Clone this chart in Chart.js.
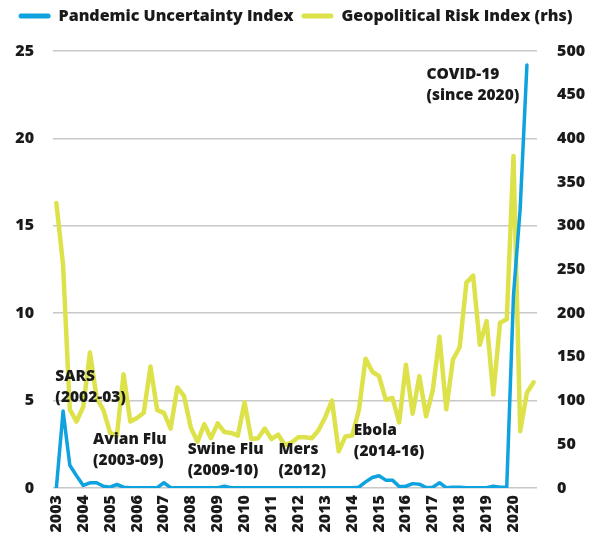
<!DOCTYPE html>
<html>
<head>
<meta charset="utf-8">
<script src="https://cdn.jsdelivr.net/npm/chart.js@4.4.1/dist/chart.umd.min.js"></script>
<style>
  html, body { margin: 0; padding: 0; background: #fff; }
  #wrap { width: 591px; height: 542px; }
</style>
</head>
<body>
<div id="wrap"><canvas id="chart" width="591" height="542"></canvas></div>
<script>
// Quarters 2003 Q1 .. 2020 Q4
const years = [];
for (let y = 2003; y <= 2020; y++) years.push(y);
const quarters = [];
years.forEach(y => { ['Q1', 'Q2', 'Q3', 'Q4'].forEach(q => quarters.push(y + ' ' + q)); });

// Pandemic Uncertainty Index (left axis), ends 2020 Q3
const pandemic = [
  0, 4.4, 1.3, 0.7, 0.15, 0.3, 0.3, 0.1,
  0.05, 0.2, 0.05, 0.02, 0.02, 0.02, 0.02, 0.02,
  0.3, 0.02, 0.02, 0.02, 0.02, 0.02, 0.02, 0.02,
  0.02, 0.1, 0.02, 0.02, 0.02, 0.02, 0.02, 0.02,
  0.02, 0.02, 0.02, 0.02, 0.02, 0.02, 0.02, 0.02,
  0.02, 0.02, 0.02, 0.02, 0.02, 0.05, 0.35, 0.6,
  0.7, 0.45, 0.45, 0.08, 0.1, 0.25, 0.22, 0.02,
  0.05, 0.3, 0.02, 0.05, 0.05, 0.02, 0.02, 0.02,
  0.02, 0.1, 0.05, 0.05, 11, 16, 24.2, null
];

// Geopolitical Risk Index (right axis)
const geopolitical = [
  326, 255, 90, 76, 93, 155, 103, 89,
  63, 60, 130, 76, 80, 86, 139, 89,
  86, 68, 115, 105, 69, 53, 73, 57,
  74, 64, 63, 60, 98, 56, 57, 68,
  56, 61, 49, 52, 58, 58, 57, 66,
  81, 100, 42, 59, 60, 89, 148, 133,
  128, 101, 103, 75, 141, 85, 128, 82,
  112, 173, 90, 147, 161, 235, 243, 164,
  191, 107, 189, 193, 380, 65, 109, 121
];

const leftTicks = [0, 5, 10, 15, 20, 25];
const rightTicks = [0, 50, 100, 150, 200, 250, 300, 350, 400, 450, 500];

// Event labels: quarter index and left-axis value of the first line
const notes = [
  { q: 0.0, v: 6.4, lines: ['SARS', '(2002-03)'] },
  { q: 5.6, v: 2.75, lines: ['Avian Flu', '(2003-09)'] },
  { q: 19.7, v: 2.2, lines: ['Swine Flu', '(2009-10)'] },
  { q: 33.2, v: 2.2, lines: ['Mers', '(2012)'] },
  { q: 44.4, v: 3.3, lines: ['Ebola', '(2014-16)'] },
  { q: 55.2, v: 23.65, lines: ['COVID-19', '(since 2020)'] }
];

const BLUE = '#0ea2de';
const YELLOW = '#dde24b';
const TEXT = '#1a1a1a';
const FONT = "'Open Sans', 'Noto Sans', sans-serif";
const WEIGHT = 800;

const notesPlugin = {
  id: 'notes',
  afterDatasetsDraw(chart) {
    const ctx = chart.ctx;
    const xs = chart.scales.x, ys = chart.scales.y;
    ctx.save();
    ctx.font = WEIGHT + ' 15.5px ' + FONT;
    ctx.fillStyle = TEXT;
    ctx.textAlign = 'left';
    ctx.textBaseline = 'middle';
    notes.forEach(n => {
      const x = xs.getPixelForValue(n.q) - 1;
      const y = ys.getPixelForValue(n.v);
      n.lines.forEach((t, i) => ctx.fillText(t, x, y + i * 21));
    });
    ctx.restore();
  }
};

// make room under the legend
const legendGap = {
  id: 'legendGap',
  beforeInit(chart) {
    const fit = chart.legend.fit;
    chart.legend.fit = function () {
      fit.bind(chart.legend)();
      this.height += 17;
    };
  }
};

new Chart(document.getElementById('chart'), {
  type: 'line',
  data: {
    labels: quarters,
    datasets: [
      {
        label: 'Pandemic Uncertainty Index',
        data: pandemic,
        yAxisID: 'y',
        borderColor: BLUE,
        backgroundColor: BLUE,
        borderWidth: 3.5,
        pointRadius: 0,
        tension: 0,
        borderCapStyle: 'round',
        borderJoinStyle: 'round'
      },
      {
        label: 'Geopolitical Risk Index (rhs)',
        data: geopolitical,
        yAxisID: 'y2',
        borderColor: YELLOW,
        backgroundColor: YELLOW,
        borderWidth: 4.5,
        pointRadius: 0,
        tension: 0,
        borderCapStyle: 'round',
        borderJoinStyle: 'round'
      }
    ]
  },
  options: {
    responsive: false,
    animation: false,
    layout: { padding: { top: 0, left: 0, right: 0, bottom: 0 } },
    plugins: {
      tooltip: { enabled: false },
      legend: {
        position: 'top',
        labels: {
          color: TEXT,
          font: { family: FONT, size: 16, weight: WEIGHT },
          boxWidth: 32,
          boxHeight: 5,
          padding: 8,
          useBorderRadius: true,
          borderRadius: 2.5,
          generateLabels(chart) {
            return Chart.defaults.plugins.legend.labels.generateLabels(chart)
              .map(l => Object.assign(l, { lineWidth: 0 }));
          }
        }
      }
    },
    scales: {
      x: {
        offset: true,
        grid: { display: false, drawTicks: false },
        border: { display: false },
        ticks: {
          autoSkip: false,
          minRotation: 90,
          maxRotation: 90,
          padding: 7,
          color: TEXT,
          font: { family: FONT, size: 16, weight: WEIGHT },
          callback(val, i) {
            const l = quarters[i];
            return l.endsWith('Q1') ? l.slice(0, 4) : '';
          }
        },
        afterFit(s) { s.height = 54; }
      },
      y: {
        position: 'left',
        min: 0,
        max: 25,
        afterBuildTicks(s) { s.ticks = leftTicks.map(v => ({ value: v })); },
        grid: { color: '#c8c8c8', lineWidth: 1.5, drawTicks: false },
        border: { display: false },
        ticks: {
          padding: 19,
          color: TEXT,
          font: { family: FONT, size: 16, weight: WEIGHT }
        },
        afterFit(s) { s.width = 53; }
      },
      y2: {
        position: 'right',
        min: 0,
        max: 500,
        afterBuildTicks(s) { s.ticks = rightTicks.map(v => ({ value: v })); },
        grid: { display: false, drawTicks: false },
        border: { display: false },
        ticks: {
          padding: 20,
          color: TEXT,
          font: { family: FONT, size: 16, weight: WEIGHT }
        },
        afterFit(s) { s.width = 54; }
      }
    }
  },
  plugins: [notesPlugin, legendGap]
});
</script>
</body>
</html>
